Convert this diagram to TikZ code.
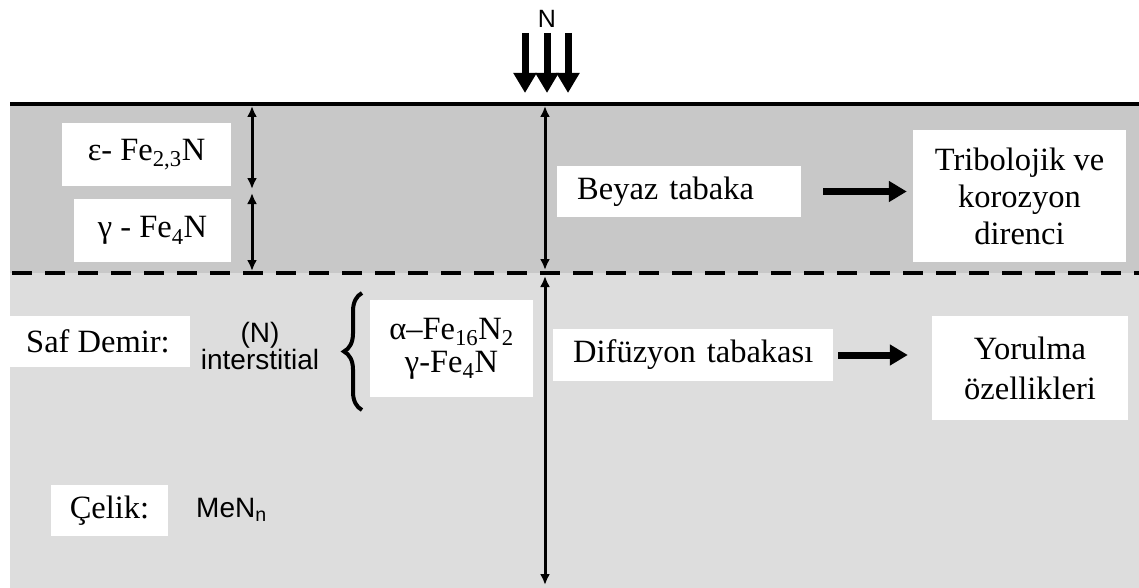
\documentclass[tikz,border=0pt]{standalone}
\usepackage{fontspec}
\setmainfont{Liberation Serif}
\newfontfamily\arialfont{Liberation Sans}
\usetikzlibrary{arrows.meta,decorations.pathreplacing}
\definecolor{topgray}{RGB}{200,200,200}
\definecolor{lowgray}{RGB}{221,221,221}
\begin{document}
\begin{tikzpicture}[x=1pt,y=-1pt,
  wbox/.style={fill=white, draw=none, inner sep=0pt, font=\fontsize{32.5}{37}\selectfont, align=center},
  sanstext/.style={font=\arialfont\fontsize{28}{23}\selectfont, inner sep=0pt, align=center},
  dimarrow/.style={line width=3pt, {Latex[length=11pt,width=10pt]}-{Latex[length=11pt,width=10pt]}},
  fatarrow/.style={line width=7pt, -{Triangle[length=18pt,width=20pt]}},
  nflux/.style={line width=7pt, -{Triangle[length=20pt,width=22pt]}},
  bracestyle/.style={line width=4pt, decorate, decoration={brace, amplitude=18pt}},
]
\useasboundingbox (0,0) rectangle (1139,588);
\fill[white] (0,0) rectangle (1139,588);
\fill[topgray] (10,104) rectangle (1139,273);
\fill[lowgray] (10,273) rectangle (1139,588);
\draw[line width=3.5pt] (10,104) -- (1139,104);
\draw[line width=4pt, dash pattern=on 20pt off 13pt] (12,273) -- (1139,273);

% nitrogen flux
\node[sanstext, font=\arialfont\fontsize{25}{25}\selectfont] (N) at (547,19) {N};
\coordinate (n1a) at (525,33); \coordinate (n1b) at (525,93);
\coordinate (n2a) at (547,33); \coordinate (n2b) at (547,93);
\coordinate (n3a) at (568,33); \coordinate (n3b) at (568,93);
\draw[nflux] (n1a) -- (n1b);
\draw[nflux] (n2a) -- (n2b);
\draw[nflux] (n3a) -- (n3b);

% thickness arrows
\coordinate (v1) at (545,106); \coordinate (v2) at (545,270);
\coordinate (v3) at (545,276); \coordinate (v4) at (545,585);
\draw[dimarrow] (v1) -- (v2);
\draw[dimarrow] (v3) -- (v4);
\coordinate (s1) at (252,106); \coordinate (s2) at (252,189);
\coordinate (s3) at (252,193); \coordinate (s4) at (252,271);
\draw[dimarrow] (s1) -- (s2);
\draw[dimarrow] (s3) -- (s4);

% left labels
\node[wbox, minimum width=169, minimum height=63] (eps) at (146.5,154.5) {ε- Fe\textsubscript{2,3}N};
\node[wbox, minimum width=157, minimum height=63] (gam) at (152.5,230.5) {γ - Fe\textsubscript{4}N};
\node[wbox, minimum width=184, minimum height=51] (saf) at (98,341.5) {Saf Demir:};
\node[sanstext] (inter) at (260,346) {(N)\\interstitial};
\draw[bracestyle] (362,410) -- (362,293);
\node[wbox, minimum width=163, minimum height=97, font=\fontsize{32.5}{33}\selectfont] (alp) at (451.5,348.5) {α–Fe\textsubscript{16}N\textsubscript{2}\\γ-Fe\textsubscript{4}N};
\node[wbox, minimum width=117, minimum height=51] (cel) at (109.5,510.5) {Çelik:};
\node[sanstext, anchor=west] (men) at (196,510) {MeN\textsubscript{n}};

% right labels
\node[wbox, anchor=west, inner xsep=20pt, text width=204pt, align=left, minimum height=51] (bey) at (557,191.5) {\mbox{Beyaz tabaka}};
\node[wbox, anchor=west, inner xsep=20pt, text width=240pt, align=left, minimum height=52] (dif) at (553,355) {\mbox{Difüzyon tabakası}};
\node[wbox, minimum width=213, minimum height=132] (trib) at (1019.5,196) {Tribolojik ve\\korozyon\\direnci};
\node[wbox, minimum width=196, minimum height=104, font=\fontsize{32.5}{40}\selectfont] (yor) at (1030,368) {Yorulma\\özellikleri};

\coordinate (t1) at (trib.west |- bey.east);
\coordinate (t2) at (yor.west |- dif.east);
\draw[fatarrow] ([xshift=22pt]bey.east) -- ([xshift=-6pt]t1);
\draw[fatarrow] ([xshift=5pt]dif.east) -- ([xshift=-24pt]t2);
\end{tikzpicture}
\end{document}
